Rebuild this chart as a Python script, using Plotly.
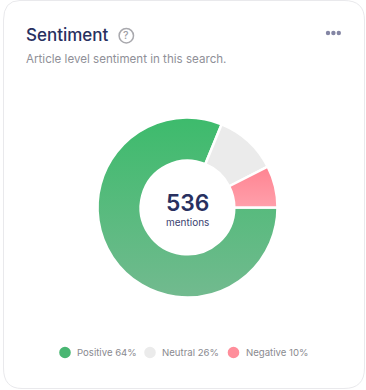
import plotly.graph_objects as go

categories = ["Positive", "Neutral", "Negative"]
slice_values = [81.2, 11.3, 7.5]
legend_percent = [64, 26, 10]
total_mentions = 536
base_colors = ["#3DBB6C", "#EBEBEB", "#FF8694"]

W, H = 366, 390
def px(x): return x / W
def py(y): return 1 - y / H

fig = go.Figure(go.Pie(
    labels=categories, values=slice_values, hole=0.52, sort=False,
    direction="clockwise", rotation=90, textinfo="none", hoverinfo="label+percent",
    marker=dict(colors=base_colors, line=dict(color="white", width=2.5)),
    domain=dict(x=[px(97.5), px(277.5)], y=[py(297.5), py(117.5)]), showlegend=False,
))

card = "M 20 0.5 H 344 Q 364.5 0.5 364.5 20 V 368 Q 364.5 388.5 344 388.5 H 22 Q 3.5 388.5 3.5 368 V 20 Q 3.5 0.5 20 0.5 Z"
def circle(cx, cy, r, fill, line=None, lw=0):
    return dict(type="circle", xref="x", yref="y", x0=cx-r, x1=cx+r, y0=cy-r, y1=cy+r,
                fillcolor=fill, line=dict(color=line or fill, width=lw), layer="above")

shapes = [dict(type="path", path=card, xref="x", yref="y", fillcolor="white",
               line=dict(color="#E9E9EC", width=1), layer="below"),
          circle(126.3, 35.7, 7.2, "rgba(0,0,0,0)", "#A9A9AE", 1.5)]
for cx in (328, 333.4, 338.8):
    shapes.append(circle(cx, 33, 2.2, "#8486A4"))
for cx, c in zip((65, 150, 233.5), ("#49B672", "#EBEBEB", "#FF8E9B")):
    shapes.append(circle(cx, 352.5, 5.8, c))

def txt(x, y, s, size, color, anchor="left", weight=400):
    return dict(xref="x", yref="y", x=x, y=y, text=s, showarrow=False, xanchor=anchor, yanchor="middle",
                borderpad=0, font=dict(family="Inter", size=size, color=color, weight=weight))

annotations = [
    txt(24.5, 35, "Sentiment", 17, "#28305F", weight=500),
    txt(126.3, 35.7, "?", 10.5, "#A0A0A6", "center", 500),
    txt(24.5, 59, "Article level sentiment in this search.", 11.6, "#909098"),
    txt(187, 202, str(total_mentions), 22.8, "#28305F", "center", 600),
    txt(187, 221.5, "mentions", 10, "#3A4270", "center"),
]
for x, c, p in zip((76, 161, 244.5), categories, legend_percent):
    annotations.append(txt(x, 352.7, f"{c} {p}%", 9.6, "#8A8A8F"))

fig.update_layout(
    width=W, height=H, margin=dict(l=0, r=0, t=0, b=0),
    paper_bgcolor="white", plot_bgcolor="rgba(0,0,0,0)", showlegend=False,
    xaxis=dict(range=[0, W], visible=False, fixedrange=True),
    yaxis=dict(range=[H, 0], visible=False, fixedrange=True),
    shapes=shapes, annotations=annotations,
)

post = """
document.body.style.margin='0';
var gd=document.getElementById('{plot_id}');
var svg=gd.querySelector('svg.main-svg');
var defs=svg.querySelector('defs');
function grad(id,a,b){var g=document.createElementNS('http://www.w3.org/2000/svg','linearGradient');
 g.setAttribute('id',id);g.setAttribute('x1','0');g.setAttribute('y1','0');g.setAttribute('x2','0');g.setAttribute('y2','1');
 [[0,a],[1,b]].forEach(function(s){var e=document.createElementNS('http://www.w3.org/2000/svg','stop');
 e.setAttribute('offset',s[0]);e.setAttribute('stop-color',s[1]);g.appendChild(e);});defs.appendChild(g);}
grad('gPos','#3DBB6C','#72BA8F');grad('gNeg','#FF8391','#FFA0AB');
var ss=gd.querySelectorAll('.slice path.surface');
ss[0].style.fill='url(#gPos)';ss[2].style.fill='url(#gNeg)';
"""
fig.write_html("out.html", post_script=post, config=dict(displayModeBar=False))
